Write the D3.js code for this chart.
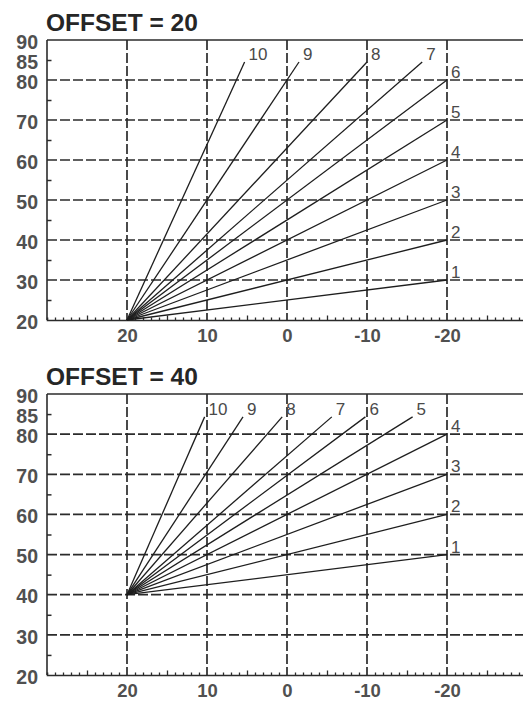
<!DOCTYPE html>
<html><head><meta charset="utf-8">
<script src="https://cdn.jsdelivr.net/npm/d3@7"></script>
<style>
html,body{margin:0;padding:0;background:#fff;overflow:hidden}
svg{display:block}
text{font-family:"Liberation Sans",Arial,sans-serif}
</style></head>
<body>
<svg id="c" width="523" height="702"></svg>
<script>
// ---- data ----
const xTickValues = [20, 10, 0, -10, -20];
const yLabelValues = [20, 30, 40, 50, 60, 70, 80, 85, 90];
const yGridValues = [30, 40, 50, 60, 70, 80];
const yMinorValues = [25, 35, 45, 55, 65, 75, 85];
const curveIds = [1, 2, 3, 4, 5, 6, 7, 8, 9, 10];
const offsets = [20, 40];
const startTemp = 20;
// end points [outdoor temp, flow temp] of curves 1..10
const endsOffset20 = [[-20, 30], [-20, 40], [-20, 50], [-20, 60], [-20, 70], [-20, 80],
  [-16.9, 84.5], [-10, 84.5], [-1.5, 84.5], [5.3, 84.5]];
const endsOffset40 = [[-20, 50], [-20, 60], [-20, 70], [-20, 80], [-15.7, 84.3],
  [-9.8, 84.3], [-5.6, 84.3], [0.6, 84.3], [5.5, 84.3], [10.3, 84.3]];

const svg = d3.select("#c");
const x = d3.scaleLinear().domain([30, -30]).range([47, 527]);
const ink = "#2b2b2b";

function panel(top, bottom, offset, ends) {
  const y = d3.scaleLinear().domain([20, 90]).range([bottom, top]);
  const g = svg.append("g");

  g.append("text").attr("x", 46).attr("y", top - 9)
    .attr("font-size", 24.5).attr("font-weight", "bold").attr("fill", "#262626")
    .text("OFFSET = " + offset);

  // horizontal grid
  g.selectAll(".hg").data(yGridValues).join("line")
    .attr("x1", x(30)).attr("x2", 523).attr("y1", d => y(d)).attr("y2", d => y(d))
    .attr("stroke", ink).attr("stroke-width", 1.7).attr("stroke-dasharray", "10,3");
  // vertical grid
  g.selectAll(".vg").data(xTickValues).join("line")
    .attr("x1", d => x(d)).attr("x2", d => x(d)).attr("y1", y(90)).attr("y2", y(20))
    .attr("stroke", ink).attr("stroke-width", 1.7).attr("stroke-dasharray", "10,3");

  // top border, left axis
  g.append("line").attr("x1", x(30)).attr("x2", 523).attr("y1", y(90)).attr("y2", y(90))
    .attr("stroke", ink).attr("stroke-width", 1.6);
  g.append("line").attr("x1", x(30)).attr("x2", x(30)).attr("y1", y(90)).attr("y2", y(20))
    .attr("stroke", ink).attr("stroke-width", 1.6);

  // bottom axis with minor ticks
  const minorX = d3.range(-30, 31).filter(v => v % 5 !== 0);
  const fiveX = d3.range(-25, 30, 5).filter(v => v % 10 !== 0);
  const bx = g.append("g").attr("transform", `translate(0,${y(20)})`);
  bx.call(d3.axisBottom(x).tickValues(minorX).tickSize(-2.5).tickFormat(""))
    .call(a => a.select(".domain").attr("stroke", ink).attr("stroke-width", 1.6))
    .call(a => a.selectAll(".tick line").attr("stroke", ink).attr("stroke-width", 1.3));
  const bx5 = g.append("g").attr("transform", `translate(0,${y(20)})`);
  bx5.call(d3.axisBottom(x).tickValues(fiveX).tickSize(-4.5).tickFormat(""))
    .call(a => a.select(".domain").remove())
    .call(a => a.selectAll(".tick line").attr("stroke", ink).attr("stroke-width", 1.3));
  const bxl = g.append("g").attr("transform", `translate(0,${y(20)})`);
  bxl.call(d3.axisBottom(x).tickValues(xTickValues).tickSize(0).tickPadding(9).tickFormat(d => d))
    .call(a => a.select(".domain").remove())
    .call(a => a.selectAll("text").attr("font-size", 18.5).attr("font-weight", "bold")
      .attr("fill", "#505050").attr("font-family", "Liberation Sans, Arial, sans-serif"));

  // left axis labels and minor ticks
  const ly = g.append("g").attr("transform", `translate(${x(30)},0)`);
  ly.call(d3.axisLeft(y).tickValues(yLabelValues).tickSize(0).tickPadding(9).tickFormat(d => d))
    .call(a => a.select(".domain").remove())
    .call(a => a.selectAll("text").attr("font-size", 19.5).attr("font-weight", "bold")
      .attr("fill", "#505050").attr("font-family", "Liberation Sans, Arial, sans-serif")
      .attr("dy", "0.42em"));
  const lyMinor = g.append("g").attr("transform", `translate(${x(30)},0)`);
  lyMinor.call(d3.axisLeft(y).tickValues(yMinorValues).tickSize(-4.5).tickFormat(""))
    .call(a => a.select(".domain").remove())
    .call(a => a.selectAll(".tick line").attr("stroke", ink).attr("stroke-width", 1.5));

  // curves
  const line = d3.line().x(d => x(d[0])).y(d => y(d[1]));
  const curves = curveIds.map((id, i) => ({ id, pts: [[startTemp, offset], ends[i]] }));
  g.selectAll(".cv").data(curves).join("path")
    .attr("d", d => line(d.pts)).attr("fill", "none")
    .attr("stroke", "#1e1e1e").attr("stroke-width", 1.3);
  g.selectAll(".cl").data(curves).join("text")
    .attr("x", d => x(d.pts[1][0]) + 4).attr("y", d => y(d.pts[1][1]) - 2)
    .attr("font-size", 17).attr("fill", "#4a4a4a")
    .text(d => d.id);
}

panel(40, 320, offsets[0], endsOffset20);
panel(394, 675, offsets[1], endsOffset40);
</script>
</body></html>
